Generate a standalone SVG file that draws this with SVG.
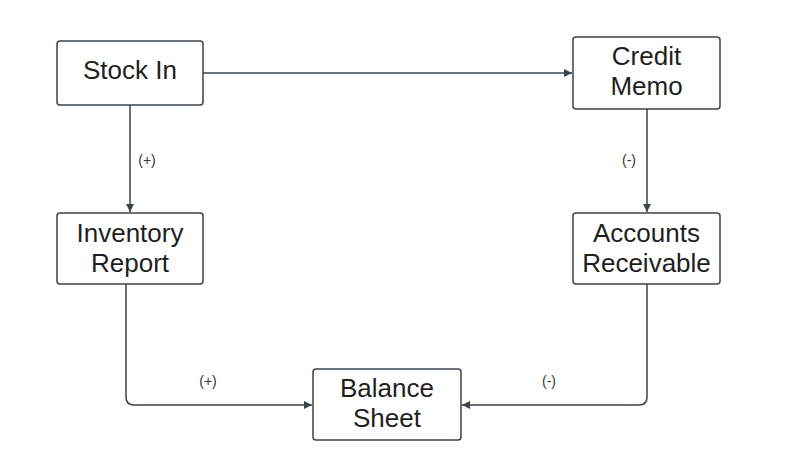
<svg xmlns="http://www.w3.org/2000/svg" width="796" height="470" viewBox="0 0 796 470">
<defs>
<style>
.node rect{fill:#ffffff;stroke:#3d434b;stroke-width:1.5}
.node text{font-family:"Liberation Sans",Arial,sans-serif;font-size:26px;fill:#1f1f1f;text-anchor:middle}
.edges path{fill:none;stroke:#3d434b;stroke-width:1.5}
.lbl{font-family:"Liberation Sans",Arial,sans-serif;font-size:14px;fill:#333333;text-anchor:middle}
</style>
<marker id="ah" viewBox="0 0 10 10" refX="10" refY="5" markerWidth="8" markerHeight="8" markerUnits="userSpaceOnUse" orient="auto">
<path d="M0,0 L10,5 L0,10 z" fill="#3d434b"/>
</marker>
</defs>
<rect width="796" height="470" fill="#ffffff"/>
<g class="edges">
<path d="M203,73 H572" marker-end="url(#ah)"/>
<path d="M130,105 V212" marker-end="url(#ah)"/>
<path d="M647,109 V212" marker-end="url(#ah)"/>
<path d="M126,284 V397 Q126,405 134,405 H312" marker-end="url(#ah)"/>
<path d="M647,284 V397 Q647,405 639,405 H462" marker-end="url(#ah)"/>
<text class="lbl" x="147" y="165">(+)</text>
<text class="lbl" x="629" y="165">(-)</text>
<text class="lbl" x="208" y="386">(+)</text>
<text class="lbl" x="549" y="386">(-)</text>
</g>
<g id="stock-in" class="node">
<rect x="57" y="41" width="146" height="64" rx="3"/>
<text x="130" y="79">Stock In</text>
</g>
<g id="credit-memo" class="node">
<rect x="573" y="37" width="147" height="72" rx="3"/>
<text x="646.5" y="65">Credit</text>
<text x="646.5" y="95">Memo</text>
</g>
<g id="inventory-report" class="node">
<rect x="57" y="213" width="146" height="71" rx="3"/>
<text x="130" y="242">Inventory</text>
<text x="130" y="272">Report</text>
</g>
<g id="accounts-receivable" class="node">
<rect x="573" y="213" width="147" height="71" rx="3"/>
<text x="646.5" y="242">Accounts</text>
<text x="646.5" y="272">Receivable</text>
</g>
<g id="balance-sheet" class="node">
<rect x="313" y="369" width="148" height="71" rx="3"/>
<text x="387" y="397">Balance</text>
<text x="387" y="427">Sheet</text>
</g>
</svg>
